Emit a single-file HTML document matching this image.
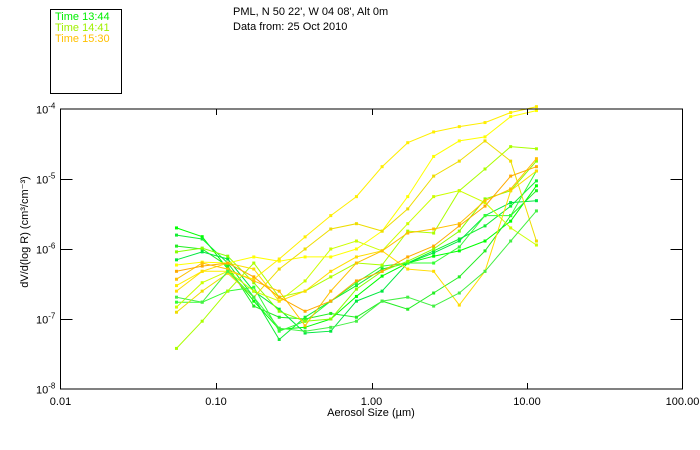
<!DOCTYPE html>
<html><head><meta charset="utf-8"><style>
body{margin:0;background:#fff;}
svg{display:block;font-family:"Liberation Sans",sans-serif;}
</style></head><body>
<svg id="chart" width="700" height="450" viewBox="0 0 700 450">
<rect x="0" y="0" width="700" height="450" fill="#fff"/>
<g>
<rect x="50.5" y="9.5" width="71" height="84" fill="none" stroke="#000" stroke-width="1"/>
<text x="55" y="20" font-size="11" fill="#00ee00">Time 13:44</text>
<text x="55" y="31" font-size="11" fill="#a0f000">Time 14:41</text>
<text x="55" y="42" font-size="11" fill="#ffc000">Time 15:30</text>
</g>
<text x="233" y="15" font-size="11" fill="#000">PML, N 50 22', W 04 08', Alt 0m</text>
<text x="233" y="30" font-size="11" fill="#000">Data from: 25 Oct 2010</text>
<g id="plot"></g>
<g id="axes"></g>
<text x="371" y="416" font-size="11" text-anchor="middle" fill="#000">Aerosol Size (µm)</text>
<text transform="translate(28,232) rotate(-90)" font-size="11" text-anchor="middle" fill="#000">dV/d(log R) (cm³/cm⁻³)</text>
</svg>
<script>
const sizes=[0.0557,0.0815,0.119,0.175,0.255,0.374,0.547,0.80,1.17,1.71,2.51,3.67,5.37,7.85,11.5];
const xTicks=[0.01,0.1,1,10,100];
const xTickLabels=["0.01","0.10","1.00","10.00","100.00"];
const yTicks=[1e-8,1e-7,1e-6,1e-5,1e-4];
const yTickExps=["-8","-7","-6","-5","-4"];
const seriesColors=["#00ff00","#11ee33","#22ee22","#00e840","#33ff33","#88ff00","#aaff00","#ccff00","#ffff00","#ffee00","#eedd00","#ffdd00","#ffc000","#ffaa00","#44f044"];
const s1=[2.0e-6,1.5e-6,5.2e-7,1.8e-7,7.1e-8,7.6e-8,1.0e-7,2.1e-7,4.1e-7,6.3e-7,7.9e-7,9.4e-7,1.3e-6,2.5e-6,8.0e-6];
const s2=[1.58e-6,1.39e-6,6.3e-7,2.05e-7,5.1e-8,1.06e-7,1.8e-7,3.0e-7,5.17e-7,6.3e-7,9.4e-7,1.39e-6,2.14e-6,4.1e-6,9.4e-6];
const s3=[1.1e-6,1.0e-6,5.7e-7,1.53e-7,1.06e-7,1.0e-7,1.2e-7,1.06e-7,1.8e-7,1.38e-7,2.35e-7,4.0e-7,9.4e-7,3.0e-6,6.8e-6];
const s4=[7.0e-7,9.1e-7,7.2e-7,2.5e-7,1.38e-7,6.3e-8,6.7e-8,1.8e-7,2.5e-7,6.3e-7,8.8e-7,1.3e-6,3.0e-6,4.6e-6,4.9e-6];
const s5=[1.74e-7,1.74e-7,2.5e-7,2.85e-7,6.7e-8,9.3e-8,1.8e-7,3.3e-7,5.7e-7,6.3e-7,6.3e-7,1.07e-6,3.0e-6,3.0e-6,1.3e-5];
const s6=[9.1e-7,1.03e-6,7.9e-7,3.3e-7,1.29e-7,9.3e-8,1.0e-7,2.67e-7,4.8e-7,6.7e-7,1.0e-6,1.8e-6,5.2e-6,6.8e-6,1.8e-5];
const s7=[3.8e-8,9.3e-8,2.5e-7,6.3e-7,2.05e-7,2.5e-7,4.0e-7,6.3e-7,5.9e-7,1.8e-6,1.69e-6,6.8e-6,1.39e-5,2.9e-5,2.7e-5];
const s8=[1.48e-7,3.3e-7,4.8e-7,2.5e-7,1.8e-7,3.5e-7,1.0e-6,1.3e-6,9.4e-7,2.3e-6,5.6e-6,6.8e-6,4.6e-6,2.0e-6,1.14e-6];
const s9=[5.9e-7,6.5e-7,6.3e-7,7.7e-7,6.7e-7,7.7e-7,7.7e-7,1.0e-6,1.8e-6,5.6e-6,2.1e-5,3.5e-5,4.0e-5,7.8e-5,9.5e-5];
const s10=[3.0e-7,4.8e-7,4.8e-7,3.7e-7,7.2e-7,1.49e-6,3.0e-6,5.6e-6,1.5e-5,3.3e-5,4.7e-5,5.6e-5,6.4e-5,8.9e-5,1.08e-4];
const s11=[1.25e-7,2.5e-7,4.5e-7,2.05e-7,5.17e-7,1.0e-6,1.93e-6,2.3e-6,1.8e-6,3.74e-6,1.1e-5,1.8e-5,3.5e-5,1.8e-5,1.3e-6];
const s12=[2.5e-7,4.8e-7,6.3e-7,5.17e-7,1.8e-7,2.5e-7,4.8e-7,7.7e-7,9.4e-7,5.17e-7,4.8e-7,1.58e-7,4.8e-7,6.8e-6,1.3e-5];
const s13=[3.7e-7,6.3e-7,5.17e-7,3.5e-7,2.5e-7,8.0e-8,2.5e-7,6.3e-7,9.4e-7,1.69e-6,1.93e-6,2.3e-6,4.9e-6,7.2e-6,1.95e-5];
const s14=[4.8e-7,5.7e-7,6.3e-7,4.0e-7,2.05e-7,1.29e-7,1.8e-7,3.5e-7,4.8e-7,7.7e-7,1.1e-6,2.14e-6,4.1e-6,1.1e-5,1.5e-5];
const s15=[2.05e-7,1.74e-7,4.8e-7,2.05e-7,7.4e-8,6.7e-8,7.6e-8,9.3e-8,1.8e-7,2.05e-7,1.53e-7,2.35e-7,4.8e-7,1.3e-6,3.5e-6];
const allSeries=[s1,s2,s3,s4,s5,s6,s7,s8,s9,s10,s11,s12,s13,s14,s15];

const L=60.5,R=682.5,T=109,B=389;
function xScale(v){return L+(Math.log10(v)+2)/4*(R-L);}
function yScale(v){return T+(-4-Math.log10(v))/4*(B-T);}
const NS='http://www.w3.org/2000/svg';
const plot=document.getElementById('plot');
const axes=document.getElementById('axes');
function mk(tag,attrs,parent){const e=document.createElementNS(NS,tag);for(const k in attrs)e.setAttribute(k,attrs[k]);parent.appendChild(e);return e;}

// axes box
const box=mk('rect',{x:L,y:T,width:R-L,height:B-T,fill:'none',stroke:'#000','stroke-width':1},axes);


xTicks.forEach((t,i)=>{
  const x=Math.round(xScale(t))+0.5;
  if(i>0&&i<xTicks.length-1){
    const tb=mk('line',{x1:x,y1:B,x2:x,y2:B-6,stroke:'#000'},axes);
    
    
    const tt=mk('line',{x1:x,y1:T,x2:x,y2:T+6,stroke:'#000'},axes);
    
    
  }
  const lb=mk('text',{x:xScale(t),y:B+16,'font-size':11,'text-anchor':'middle',fill:'#000'},axes);
  lb.textContent=xTickLabels[i];
  
  
});
yTicks.forEach((t,i)=>{
  const y=Math.round(yScale(t))+0.5;
  if(i>0&&i<yTicks.length-1){
    const tl=mk('line',{x1:L,y1:y,x2:L+12,y2:y,stroke:'#000'},axes);
    
    
    const tr=mk('line',{x1:R,y1:y,x2:R-12,y2:y,stroke:'#000'},axes);
    
    
  }
  const lb=mk('text',{x:36,y:y+4,'font-size':11,fill:'#000'},axes);
  
  
  const base=document.createElementNS(NS,'tspan');base.textContent='10';lb.appendChild(base);
  const sup=document.createElementNS(NS,'tspan');sup.setAttribute('dy','-5');sup.setAttribute('font-size','8');sup.textContent=yTickExps[i];lb.appendChild(sup);
});

allSeries.forEach((s,si)=>{
  const col=seriesColors[si];
  const g=mk('g',{},plot);
  
  
  const pts=s.map((v,i)=>xScale(sizes[i]).toFixed(1)+','+yScale(v).toFixed(1)).join(' ');
  const pl=mk('polyline',{points:pts,fill:'none',stroke:col,'stroke-width':1},g);
  
  
  s.forEach((v,i)=>{
    const m=mk('rect',{x:xScale(sizes[i])-1.5,y:yScale(v)-1.5,width:3,height:3,fill:col},g);
    
    
  });
});
</script>
</body></html>
